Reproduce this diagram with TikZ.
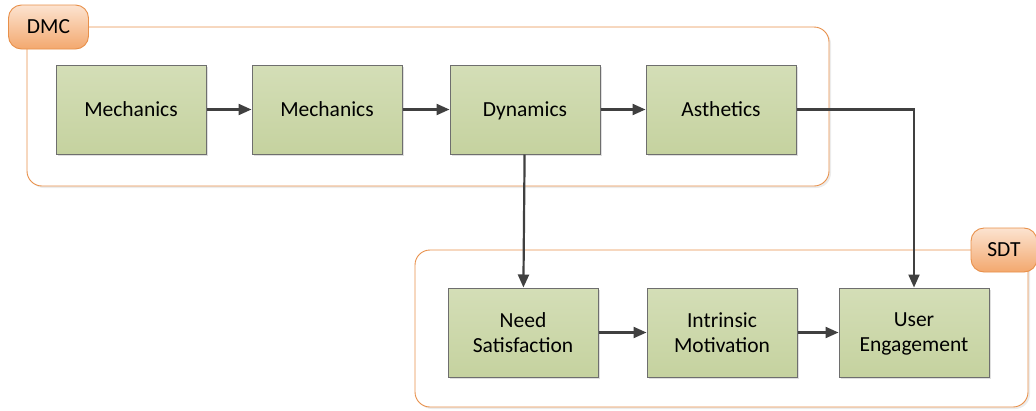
\documentclass[tikz,border=0pt]{standalone}
\usepackage{fontspec}
\setmainfont{Carlito}
\usetikzlibrary{arrows.meta, positioning, shadows}
\definecolor{boxtop}{HTML}{D4DEB7}
\definecolor{boxbot}{HTML}{C5D29F}
\definecolor{boxline}{HTML}{6E6E6E}
\definecolor{grpline}{HTML}{E8904A}
\definecolor{tagtop}{HTML}{FCE3D0}
\definecolor{tagbot}{HTML}{F3A86E}
\definecolor{arrowcol}{HTML}{404040}
\tikzset{
  stage/.style={draw=boxline, line width=1pt, top color=boxtop, bottom color=boxbot, align=center,
    minimum width=150pt, minimum height=89pt, inner sep=0pt, text depth=0pt,
    drop shadow={shadow xshift=2pt, shadow yshift=-2pt, opacity=0.25}},
  group/.style={draw=grpline, fill=white, line width=0.9pt, rounded corners=15pt, minimum width=802pt, minimum height=159pt, inner sep=0pt,
    drop shadow={shadow xshift=2pt, shadow yshift=-2pt, opacity=0.15}},
  tag/.style={draw=grpline, line width=0.9pt, rounded corners=13pt, top color=tagtop, bottom color=tagbot,
    minimum width=80pt, minimum height=44pt, inner sep=0pt},
  arrow/.style={-{Triangle[length=13pt, width=11pt]}, line width=2.2pt, arrowcol},
  every node/.style={font=\fontsize{21.5}{25}\selectfont}
}
\begin{document}
\begin{tikzpicture}[x=1pt, y=-1pt, node distance=45pt]
    \useasboundingbox (0,0) rectangle (1036,410);
    % containers
    \node[group] (dmc) at (428,106.5) {};
    \node[group, minimum width=613pt, minimum height=157pt] (sdt) at (721.5,328.5) {};
    \node[tag] (dmctag) at (48.5,27) {DMC};
    \node[tag, minimum width=66pt] (sdttag) at (1004,250) {SDT};

    % DMC row
    \node[stage] (mech1) at (131,109.5) {Mechanics};
    \node[stage, right=of mech1] (mech2) {Mechanics};
    \node[stage, right=47pt of mech2] (dyn) {Dynamics};
    \node[stage, right=of dyn] (aes) {Asthetics};

    % SDT row
    \node[stage] (need) at (523,332.5) {Need\\Satisfaction};
    \node[stage, right=48pt of need] (intr) {Intrinsic\\Motivation};
    \node[stage, right=41pt of intr] (user) {User\\Engagement};

    \draw[arrow] (mech1) -- (mech2);
    \draw[arrow] (mech2) -- (dyn);
    \draw[arrow] (dyn) -- (aes);
    \draw[arrow] (dyn) -- (need);
    \draw[arrow] (aes.east) -| (user.north);
    \draw[arrow] (need) -- (intr);
    \draw[arrow] (intr) -- (user);
\end{tikzpicture}
\end{document}
